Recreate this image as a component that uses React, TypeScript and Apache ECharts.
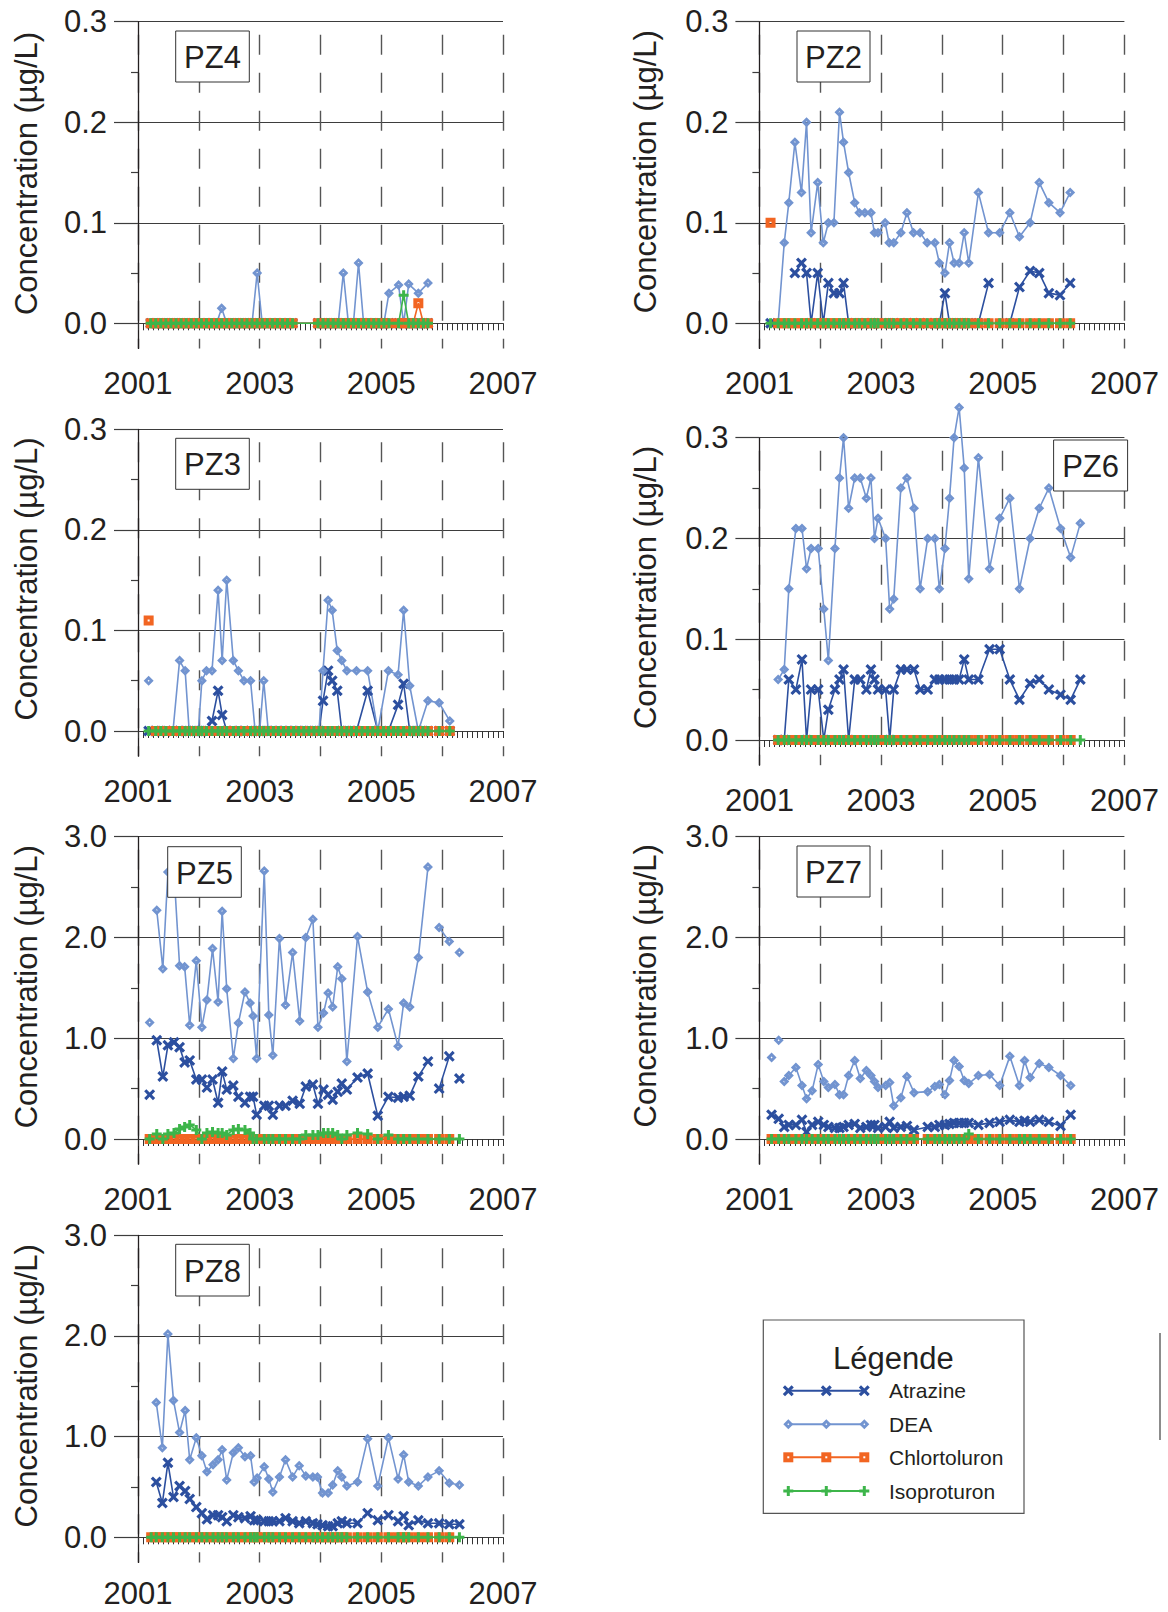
import React, { useEffect, useRef } from 'react';
import * as echarts from 'echarts';

const _ = null;   // not sampled for this substance
const BR = '-';   // line break

// ---------- tick labels ----------
const xLabelYears = [2001, 2003, 2005, 2007];
const yTicksLow = [0, 0.1, 0.2, 0.3];
const yMinorLow = [0.05, 0.15, 0.25];
const yTicksHigh = [0, 1, 2, 3];
const yMinorHigh = [0.5, 1.5, 2.5];
const substances = ['Atrazine', 'DEA', 'Chlortoluron', 'Isoproturon'];

// ---------- data: sampling months since Jan 2001, values in µg/L ----------
// PZ4
const pz4Months = [2.5,3.5,4.5,5.5,6.5,7.5,8.5,9.5,10.5,11.5,12.5,13.5,14.5,15.5,16.5,17.5,18.5,19.5,20.5,21.5,22.5,23.5,24.5,25.5,26.5,27.5,28.5,29.5,30.5,35.5,36.5,37.5,38.5,39.5,40.5,41.5,42.5,43.5,44.5,45.5,46.5,47.5,48.5,49.5,51.4,52.4,53.4,54.3,55.3,56.3,57.2];
const pz4Atrazine = [0,0,0,0,0,0,0,0,0,0, 0,0,0,0,0,0,0,0,0,0, 0,0,0,0,0,0,0,0,0, 0,0,0,0,0,0,0,0,0,0,0,0,0,0,0, 0,0,0,0,0,0,0];
const pz4Dea = [0,0,0,0,0,0,0,0,0,0, 0,0,0,0,0.015,0,0,0,0,0, 0,0.05,0,0,0,0,0,0,0, 0,0,0,0,0,0.05,0,0,0.06,0,0,0,0,0,0.03, 0.038,0,0.039,_,0.03,_,0.04];
const pz4Chlortoluron = [0,0,0,0,0,0,0,0,0,0, 0,0,0,0,0,0,0,0,0,0, 0,0,0,0,0,0,0,0,0, 0,0,0,0,0,0,0,0,0,0,0,0,0,0,0, 0,0,0,0,0.02,0,0];
const pz4Isoproturon = [0,0,0,0,0,0,0,0,0,0, 0,0,0,0,0,0,0,0,0,0, 0,0,0,0,0,0,0,0,0, 0,0,0,0,0,0,0,0,0,0,0,0,0,0,0, 0,0.028,0,0,0,0,0];

// PZ2
const pz2Months = [2.2,3.0,3.7,4.9,5.8,7.0,8.3,9.3,10.2,11.5,12.6,13.6,14.7,15.8,16.6,17.6,18.8,19.7,20.8,22.0,22.7,23.4,24.8,25.6,26.5,27.9,29.1,30.4,31.7,33.1,34.6,35.5,36.6,37.5,38.4,39.4,40.4,41.3,43.2,45.2,47.4,49.4,51.3,53.4,55.2,57.1,59.3,61.3];
const pz2Atrazine = [0,BR,_,_,_,0.05,0.06,0.05,0,0.05,0,0.04,0.03,0.03,0.04,0, 0,0,0,0,0,0,0,0,0,0,0,0,0,0,0, 0,0.03,0,0,0,0,0,0,0.04,BR, 0,0.036,0.052,0.05,0.03,0.028,0.04];
const pz2Dea = [_,_,0,0.08,0.12,0.18,0.13,0.20,0.09,0.14,0.08,0.10,0.10,0.21,0.18,0.15,0.12,0.11,0.11,0.11,0.09,0.09,0.10,0.08,0.08,0.09,0.11,0.09,0.09,0.08,0.08,0.06,0.05,0.08,0.06,0.06,0.09,0.06,0.13,0.09,0.09,0.11,0.086,0.10,0.14,0.12,0.11,0.13];
const pz2Chlortoluron = [0.1,BR,0,0,0,0,0,0,0,0, 0,0,0,0,0,0,0,0,0,0, 0,0,0,0,0,0,0,0,0,0, 0,0,0,0,0,0,0,0,0,0, 0,0,0,0,0,0,0,0];
const pz2Isoproturon = [0,_,0,0,0,0,0,0,0,0, 0,0,0,0,0,0,0,0,0,0, 0,0,0,0,0,0,0,0,0,0, 0,0,0,0,0,0,0,0,0,0, 0,0,0,0,0,0,0,0];

// PZ3
const pz3Months = [2.1,2.8,3.5,4.5,5.5,6.9,8.2,9.3,10.1,11.0,11.9,12.6,13.5,14.6,15.8,16.6,17.5,18.8,19.8,20.9,22.2,23.1,24.0,24.8,25.7,26.7,27.7,28.7,29.7,30.7,31.7,32.7,33.7,34.7,35.7,36.5,37.5,38.3,39.3,40.2,41.2,42.1,43.1,44.2,45.3,46.3,47.3,48.4,49.4,50.4,51.3,52.4,53.6,54.4,55.3,56.2,57.2,59.4,61.5];
const pz3Atrazine = [0,_, 0,0,0,0,0,0,0,0,0,0,0, 0.01,0.04,0.016,0, 0,0,0,0,0,0,0,0,0,0,0,0,0,0,0,0,0,0, 0.03,0.06,0.05,0.04,0,0,0,0, _,0.04,_,0,_,0,_, 0.026,0.047,0, 0,0,0,0,0,0];
const pz3Dea = [0.05,BR,0,0,0,0,0.07,0.06,0,0,0,0.05,0.06,0.06,0.14,0.07,0.15,0.07,0.06,0.05,0.05,0,0,0.05,0, 0,0,0,0,0,0,0,0,0,0, 0.06,0.13,0.12,0.08,0.07,0.06,_,0.06,_,0.06,_,0,_,0.06,_,0.056,0.12,0.045,_,0,_,0.03,0.028,0.01];
const pz3Chlortoluron = [0.11,BR, 0,0,0,0,0,0,0,0,0,0, 0,0,0,0,0,0,0,0,0,0, 0,0,0,0,0,0,0,0,0,0, 0,0,0,0,0,0,0,0,0,0, 0,0,0,0,0,0,0,0,0,0, 0,0,0,0,0,0,0];
const pz3Isoproturon = [0,_, 0,0,0,0,0,0,0,0,0,0, 0,0,0,0,0,0,0,0,0,0, 0,0,0,0,0,0,0,0,0,0, 0,0,0,0,0,0,0,0,0,0, 0,0,0,0,0,0,0,0,0,0, 0,0,0,0,0,0,0];

// PZ6
const pz6Months = [3.7,4.9,5.8,7.2,8.4,9.3,10.2,11.6,12.7,13.6,14.9,15.8,16.6,17.6,18.8,19.9,21.1,22.0,22.7,23.4,24.9,25.7,26.5,27.9,29.1,30.5,31.7,33.2,34.6,35.5,36.6,37.5,38.4,39.4,40.4,41.3,43.2,45.4,47.4,49.4,51.3,53.4,55.2,57.1,59.4,61.4,63.3];
const pz6Atrazine = [0,0,0.06,0.05,0.08,0,0.05,0.05,0,0.03,0.05,0.06,0.07,0,0.06,0.06,0.05,0.07,0.06,0.05,0.05,0,0.05,0.07,0.07,0.07,0.05,0.05,0.06,0.06,0.06,0.06,0.06,0.06,0.08,0.06,0.06,0.09,0.09,0.06,0.04,0.056,0.06,0.05,0.045,0.04,0.06];
const pz6Dea = [0.06,0.07,0.15,0.21,0.21,0.17,0.19,0.19,0.13,0.079,0.19,0.26,0.30,0.23,0.26,0.26,0.24,0.26,0.20,0.22,0.20,0.13,0.14,0.25,0.26,0.23,0.15,0.20,0.20,0.15,0.19,0.24,0.30,0.33,0.27,0.16,0.28,0.17,0.22,0.24,0.15,0.20,0.23,0.25,0.21,0.181,0.215];
const pz6Chlortoluron = [0,0,0,0,0,0,0,0,0,0, 0,0,0,0,0,0,0,0,0,0, 0,0,0,0,0,0,0,0,0,0, 0,0,0,0,0,0,0,0,0,0, 0,0,0,0,0,0,_];
const pz6Isoproturon = [0,0,0,0,0,0,0,0,0,0, 0,0,0,0,0,0,0,0,0,0, 0,0,0,0,0,0,0,0,0,0, 0,0,0,0,0,0,0,0,0,0, 0,0,0,0,0,0,0];

// PZ5
const pz5Months = [2.3,3.0,3.7,4.9,5.9,7.1,8.2,9.2,10.2,11.5,12.6,13.6,14.7,15.8,16.6,17.5,18.8,19.8,21.1,22.1,22.7,23.4,24.9,25.8,26.6,27.9,29.1,30.5,31.9,33.1,34.5,35.5,36.6,37.5,38.4,39.4,40.2,41.2,43.3,45.3,47.3,49.4,51.3,52.4,53.6,55.3,57.2,58.3,59.4,61.4,62.4,63.4];
const pz5Atrazine = [0.44,BR,0.98,0.62,0.93,0.96,0.91,0.76,0.78,0.59, 0.59,0.51,0.59,0.36,0.67,0.49,0.53,0.42,0.36,0.42, 0.42,0.24,0.33,0.33,0.24,0.33,0.33,0.38,0.35,0.52, 0.54,0.35,0.49,0.44,0.39,0.47,0.55,0.49,0.61,0.65, 0.23,0.42,0.41,0.42,0.43,0.62,0.77,BR,0.50,0.82, BR,0.60];
const pz5Dea = [1.155,BR,2.27,1.69,2.65,2.65,1.72,1.71,1.13,1.77, 1.11,1.38,1.89,1.36,2.26,1.49,0.80,1.15,1.46,1.35, 1.22,0.80,2.66,1.23,0.83,1.99,1.33,1.85,1.17,2.00, 2.18,1.11,1.25,1.45,1.31,1.71,1.59,0.77,2.01,1.46, 1.11,1.29,0.92,1.35,1.31,1.80,2.70,BR,2.10,1.96, BR,1.85];
const pz5Chlortoluron = [0,_,0,0,0,0,0,0,0,0, 0,0,0,0,0,0,0,0,0,0, 0,0,0,0,0,0,0,0,0,0, 0,0,0,0,0,0,0,0,0,0, 0,0,0,0,0,0,0,_,0,0, _,_];
const pz5Isoproturon = [0,_,0.05,0,0.05,0.06,0.10,0.12,0.14,0.09, 0,0.06,0.07,0.06,0.06,0.04,0.09,0.10,0.09,0.06, 0,0,0,0,0,0,0,0,0,0.04, 0.04,0.04,0.06,0.06,0.06,0.04,0,0.04,0.06,0.05, 0,0.04,0,0,0,0,0,_,0,0, _,0];

// PZ7
const pz7Months = [2.4,3.1,3.8,4.5,4.9,5.8,7.2,8.4,9.3,10.4,11.6,12.7,13.6,14.9,15.8,16.6,17.6,18.8,19.9,21.1,22.0,22.7,23.4,24.9,25.7,26.5,27.9,29.1,30.5,33.2,34.6,35.5,36.6,37.5,38.4,39.4,40.4,41.3,43.2,45.4,47.4,49.4,51.3,52.3,53.4,55.2,57.1,59.4,61.4];
const pz7Atrazine = [0.24,_,0.20,_,0.12,0.14,0.14,0.19,0.07,0.14,0.17,0.14,0.12,0.11,0.11,0.12,0.14,0.15,0.11,0.12,0.14,0.14,0.11,0.12,0.17,0.11,0.12,0.13,0.09,0.12,0.12,0.14,0.14,0.15,0.16,0.16,0.16,0.16,0.14,0.16,0.17,0.19,0.17,0.18,0.17,0.19,0.17,0.13,0.24];
const pz7Dea = [0.81,BR,0.98,BR,0.57,0.63,0.71,0.53,0.40,0.48,0.74,0.57,0.51,0.54,0.44,0.44,0.63,0.78,0.60,0.68,0.63,0.57,0.51,0.53,0.56,0.33,0.41,0.62,0.46,0.47,0.52,0.54,0.44,0.58,0.78,0.72,0.58,0.55,0.63,0.64,0.53,0.82,0.53,0.78,0.61,0.75,0.71,0.63,0.53];
const pz7Chlortoluron = [0,_,0,_,0,0,0,0,0,0, 0,0,0,0,0,0,0,0,0,0, 0,0,0,0,0,0,0,0,0,0, 0,0,0,0,0,0,0,0,0,0, 0,0,0,0,0,0,0,0,0];
const pz7Isoproturon = [0,_,0,_,0,0,0,0,0,0, 0,0,0,0,0,0,0,0,0,0, 0,0,0,0,0,0,0,0,0,0, 0,0,0,0,0,0,0,0.05,0,0, 0,0,0,0,0,0,0,0,0];

// PZ8
const pz8Months = [2.6,3.6,4.8,5.9,7.0,8.2,9.3,10.2,11.5,12.6,13.6,14.8,15.8,16.6,17.5,18.8,19.8,21.1,22.2,22.9,23.5,24.9,25.8,26.6,27.9,29.1,30.5,31.8,33.1,34.5,35.4,36.4,37.5,38.4,39.4,40.2,41.2,43.3,45.3,47.3,49.4,51.3,52.4,53.4,55.3,57.2,59.4,61.4,63.4];
const pz8Atrazine = [_,0.55,0.34,0.74,0.40,0.51,0.46,0.38,0.30,0.24,0.18,0.22,0.22,0.20,0.16,0.22,0.20,0.19,0.21,0.17,0.17,0.16,0.16,0.16,0.16,0.19,0.16,0.14,0.16,0.14,0.13,0.12,0.11,0.11,0.14,0.16,0.14,0.14,0.24,0.17,0.22,0.16,0.21,0.12,0.17,0.14,0.14,0.13,0.13];
const pz8Dea = [_,1.34,0.89,2.02,1.36,1.04,1.26,0.77,0.99,0.81,0.65,0.72,0.77,0.87,0.57,0.84,0.89,0.80,0.81,0.55,0.59,0.70,0.58,0.45,0.60,0.77,0.60,0.71,0.61,0.60,0.60,0.44,0.44,0.52,0.66,0.60,0.51,0.55,0.98,0.51,0.99,0.58,0.82,0.55,0.51,0.60,0.66,0.54,0.52];
const pz8Chlortoluron = [0,0,0,0,0,0,0,0,0,0, 0,0,0,0,0,0,0,0,0,0, 0,0,0,0,0,0,0,0,0,0, 0,0,0,0,0,0,0,0,0,0, 0,0,0,0,0,0,0,0,_];
const pz8Isoproturon = [0,0,0,0,0,0,0,0,0,0, 0,0,0,0,0,0,0,0,0,0, 0,0,0,0,0,0,0,0,0,0, 0,0,0,0,0,0,0,0,0,0, 0,0,0,0,0,0,0,0,0];

// ---------- layout ----------
const PLOT_W = 365;
const FS = 31;
const FONT = '"Liberation Sans", Arial, Helvetica, sans-serif';
const TEXT_C = '#231f20';
const GRID_C = '#3d3d3d';
const COLORS = ['#2c4f9f', '#7294d0', '#f26522', '#3db54a'];

const X_PATH = 'path://M2,0L5,3L8,0L10,2L7,5L10,8L8,10L5,7L2,10L0,8L3,5L0,2Z';
const DIAMOND_PATH = 'path://M5,0L10,5L5,10L0,5ZM5,4L4,5L5,6L6,5Z';
const SQUARE_PATH = 'path://M0,0H10V10H0ZM4,4V6H6V4Z';
const PLUS_PATH = 'path://M3.5,0H6.5V3.5H10V6.5H6.5V10H3.5V6.5H0V3.5H3.5Z';
const SYMBOLS = [
  { symbol: X_PATH, size: 11 },
  { symbol: DIAMOND_PATH, size: 10 },
  { symbol: SQUARE_PATH, size: 10 },
  { symbol: PLUS_PATH, size: 10 },
];

const panels = [
  { name: 'PZ4', left: 138, top: 21.7, zero: 323.3, high: false, labelGap: 20, months: pz4Months, series: [pz4Atrazine, pz4Dea, pz4Chlortoluron, pz4Isoproturon], box: [175.7, 31, 73.6, 51], title: [26.7, 173.5] },
  { name: 'PZ2', left: 759.4, top: 21.7, zero: 323.3, high: false, labelGap: 20, months: pz2Months, series: [pz2Atrazine, pz2Dea, pz2Chlortoluron, pz2Isoproturon], box: [797, 31, 73, 51], title: [645.5, 171.7] },
  { name: 'PZ3', left: 138, top: 429.3, zero: 731, high: false, labelGap: 20, months: pz3Months, series: [pz3Atrazine, pz3Dea, pz3Chlortoluron, pz3Isoproturon], box: [175.7, 438.3, 73.6, 51], title: [26.7, 579] },
  { name: 'PZ6', left: 759.4, top: 437.7, zero: 740, high: false, labelGap: 20, months: pz6Months, series: [pz6Atrazine, pz6Dea, pz6Chlortoluron, pz6Isoproturon], box: [1053.6, 440, 74, 51], title: [645.5, 587.5] },
  { name: 'PZ5', left: 138, top: 836.7, zero: 1139, high: true, labelGap: 20, months: pz5Months, series: [pz5Atrazine, pz5Dea, pz5Chlortoluron, pz5Isoproturon], box: [167.7, 846.7, 73.6, 50.6], title: [26.7, 986.7] },
  { name: 'PZ7', left: 759.4, top: 836.7, zero: 1139, high: true, labelGap: 20, months: pz7Months, series: [pz7Atrazine, pz7Dea, pz7Chlortoluron, pz7Isoproturon], box: [797, 846, 73, 51], title: [645.5, 985.8] },
  { name: 'PZ8', left: 138, top: 1235.3, zero: 1537.3, high: true, labelGap: 16, months: pz8Months, series: [pz8Atrazine, pz8Dea, pz8Chlortoluron, pz8Isoproturon], box: [175.7, 1244.3, 73.6, 51.7], title: [26.7, 1385.8] },
];

function toPoints(months: number[], values: any[]) {
  const pts: any[] = [];
  for (let i = 0; i < months.length; i++) {
    const v = values[i];
    if (v === null || v === undefined) continue;
    pts.push([2001 + months[i] / 12, v]);
  }
  return pts;
}

function textStyle(text: string, size: number, align = 'center', vAlign = 'middle') {
  return {
    text, fontSize: size, fontFamily: FONT, fill: TEXT_C,
    align, verticalAlign: vAlign, textAlign: align, textVerticalAlign: vAlign,
  };
}

function xPoly(cx: number, cy: number, s: number) {
  const p = [[2,0],[5,3],[8,0],[10,2],[7,5],[10,8],[8,10],[5,7],[2,10],[0,8],[3,5],[0,2]];
  return p.map(([a, b]) => [cx + (a - 5) * s / 10, cy + (b - 5) * s / 10]);
}
function plusPoly(cx: number, cy: number, s: number) {
  const p = [[3.5,0],[6.5,0],[6.5,3.5],[10,3.5],[10,6.5],[6.5,6.5],[6.5,10],[3.5,10],[3.5,6.5],[0,6.5],[0,3.5],[3.5,3.5]];
  return p.map(([a, b]) => [cx + (a - 5) * s / 10, cy + (b - 5) * s / 10]);
}

function legendMarker(k: number, cx: number, cy: number) {
  const c = COLORS[k];
  if (k === 0) return [{ type: 'polygon', shape: { points: xPoly(cx, cy, 11) }, style: { fill: c }, z: 101 }];
  if (k === 1) return [
    { type: 'polygon', shape: { points: [[cx, cy - 5], [cx + 5, cy], [cx, cy + 5], [cx - 5, cy]] }, style: { fill: c }, z: 101 },
    { type: 'polygon', shape: { points: [[cx, cy - 1], [cx + 1, cy], [cx, cy + 1], [cx - 1, cy]] }, style: { fill: '#fff' }, z: 102 },
  ];
  if (k === 2) return [
    { type: 'rect', shape: { x: cx - 5, y: cy - 5, width: 10, height: 10 }, style: { fill: c }, z: 101 },
    { type: 'rect', shape: { x: cx - 1, y: cy - 1, width: 2, height: 2 }, style: { fill: '#fff' }, z: 102 },
  ];
  return [{ type: 'polygon', shape: { points: plusPoly(cx, cy, 10) }, style: { fill: c }, z: 101 }];
}

function buildOption() {
  const grid: any[] = [];
  const xAxis: any[] = [];
  const yAxis: any[] = [];
  const series: any[] = [];
  const graphic: any[] = [];

  panels.forEach((p, i) => {
    const ticks = p.high ? yTicksHigh : yTicksLow;
    const minor = p.high ? yMinorHigh : yMinorLow;
    const ymax = ticks[ticks.length - 1];
    const h0 = p.zero - p.top;
    grid.push({ left: p.left, top: p.top, width: PLOT_W, height: h0 * 13 / 12, containLabel: false, outerBoundsMode: 'none' });
    xAxis.push({
      type: 'value', gridIndex: i, min: 2001, max: 2007, interval: 1,
      axisLine: { show: true, onZero: true, lineStyle: { color: GRID_C, width: 1.2 } },
      axisTick: { show: true, inside: false, length: 7, lineStyle: { color: '#333', width: 1 } },
      minorTick: { show: true, splitNumber: 12, length: 7, lineStyle: { color: '#333', width: 1 } },
      minorSplitLine: { show: false },
      axisLabel: {
        customValues: xLabelYears, formatter: (v: number) => String(Math.round(v)),
        margin: p.labelGap, fontSize: FS, fontFamily: FONT, color: TEXT_C, showMinLabel: true, showMaxLabel: true,
      },
      splitLine: { show: true, lineStyle: { color: '#555', width: 1.4, type: [20, 18], dashOffset: 25 } },
    });
    yAxis.push({
      type: 'value', gridIndex: i, position: 'left', min: -ymax / 12, max: ymax,
      axisLine: { show: true, onZero: false, lineStyle: { color: TEXT_C, width: 1.3 } },
      axisTick: { show: true, inside: false, customValues: ticks, length: 24, lineStyle: { color: GRID_C, width: 1.2 } },
      axisLabel: { customValues: ticks, formatter: (v: number) => v.toFixed(1), margin: 31, fontSize: FS, fontFamily: FONT, color: TEXT_C },
      splitLine: { show: true, lineStyle: { color: GRID_C, width: 1.2 } },
    });
    yAxis.push({
      type: 'value', gridIndex: i, position: 'left', min: -ymax / 12, max: ymax,
      axisLine: { show: false, onZero: false },
      axisTick: { show: true, inside: false, customValues: minor, length: 7, lineStyle: { color: GRID_C, width: 1.2 } },
      axisLabel: { show: false },
      splitLine: { show: false },
    });
    substances.forEach((name, k) => {
      series.push({
        type: 'line', name, xAxisIndex: i, yAxisIndex: 2 * i,
        data: toPoints(p.months, p.series[k]),
        symbol: SYMBOLS[k].symbol, symbolSize: SYMBOLS[k].size, showAllSymbol: true,
        connectNulls: false, clip: false, silent: true, animation: false,
        lineStyle: { color: COLORS[k], width: 1.6 },
        itemStyle: { color: COLORS[k], borderWidth: 0 },
        emphasis: { disabled: true },
      });
    });
    graphic.push({ type: 'text', x: p.title[0], y: p.title[1], rotation: Math.PI / 2, style: textStyle('Concentration (µg/L)', FS), z: 100 });
    const [bx, by, bw, bh] = p.box;
    graphic.push({ type: 'rect', shape: { x: bx, y: by, width: bw, height: bh }, style: { fill: '#fff', stroke: '#333', lineWidth: 1 }, z: 100 });
    graphic.push({ type: 'text', x: bx + bw / 2, y: by + bh / 2 + 1, style: textStyle(p.name, FS), z: 101 });
  });

  // legend
  graphic.push({ type: 'rect', shape: { x: 763.3, y: 1320, width: 260.7, height: 193.3 }, style: { fill: '#fff', stroke: '#555', lineWidth: 1.2 }, z: 100 });
  graphic.push({ type: 'text', x: 893.3, y: 1358, style: textStyle('Légende', FS), z: 101 });
  const rows = [1390.7, 1424.3, 1457.3, 1491];
  substances.forEach((name, k) => {
    const y = rows[k];
    graphic.push({ type: 'line', shape: { x1: 788.3, y1: y, x2: 864.3, y2: y }, style: { stroke: COLORS[k], lineWidth: 2 }, z: 101 });
    [788.3, 826.3, 864.3].forEach((cx) => legendMarker(k, cx, y).forEach((g) => graphic.push(g)));
    graphic.push({ type: 'text', x: 889, y, style: textStyle(name, 21, 'left', 'middle'), z: 101 });
  });
  graphic.push({ type: 'line', shape: { x1: 1160, y1: 1333, x2: 1160, y2: 1440 }, style: { stroke: '#666', lineWidth: 1.5 }, z: 100 });

  return {
    animation: false,
    backgroundColor: '#fff',
    grid, xAxis, yAxis, series, graphic,
  };
}

export default function App() {
  const ref = useRef<HTMLDivElement>(null);
  useEffect(() => {
    document.body.style.margin = '0';
    const chart = echarts.init(ref.current as HTMLDivElement, null, { renderer: 'svg' });
    chart.setOption(buildOption() as any);
    return () => chart.dispose();
  }, []);
  return <div ref={ref} style={{ width: 1168, height: 1612 }} />;
}
